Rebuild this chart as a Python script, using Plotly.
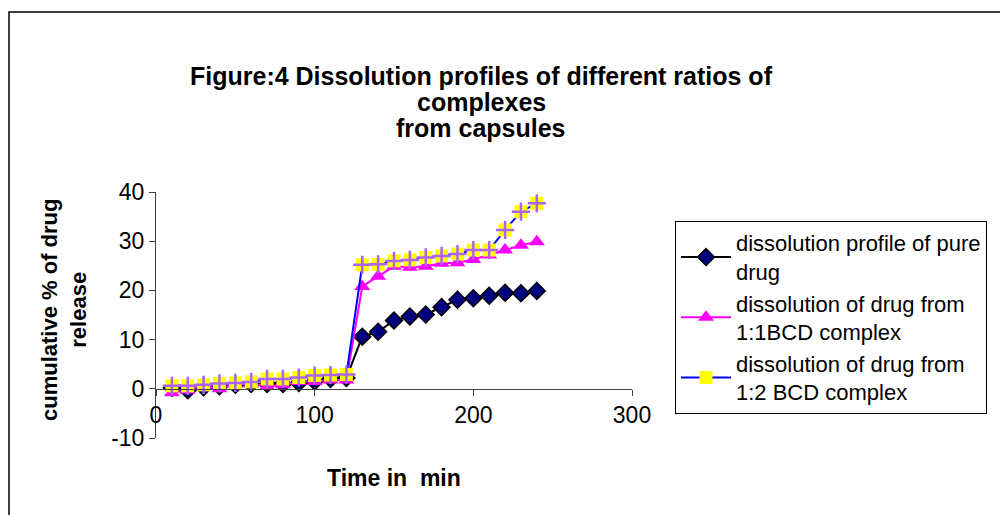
import plotly.graph_objects as go

time_min = [10, 20, 30, 40, 50, 60, 70, 80, 90, 100, 110, 120,
            130, 140, 150, 160, 170, 180, 190, 200, 210, 220, 230, 240]
pure_drug = [0.2, -0.3, 0.3, 0.5, 0.8, 1.0, 1.0, 1.0, 1.2, 1.5, 2.0, 2.2,
             10.6, 11.6, 13.9, 14.7, 15.1, 16.6, 18.1, 18.4, 18.9, 19.5, 19.4, 19.9]
bcd_1_1 = [-0.8, -0.3, 0.5, 0.0, 1.0, 1.0, 0.5, 0.8, 1.5, 1.5, 1.8, 1.8,
           20.8, 22.9, 24.9, 24.7, 24.9, 25.5, 25.6, 26.3, 27.2, 28.2, 29.2, 29.9]
bcd_1_2 = [0.6, 0.6, 0.8, 1.1, 1.2, 1.4, 2.0, 2.0, 2.3, 2.7, 2.8, 2.9,
           25.2, 25.3, 26.0, 26.2, 26.7, 27.0, 27.4, 28.2, 28.2, 32.3, 36.0, 37.7]

series_names = ["dissolution profile of pure<br>drug",
                "dissolution of drug from<br>1:1BCD complex",
                "dissolution of drug from<br>1:2 BCD complex"]
title_lines = ["Figure:4 Dissolution profiles of different ratios of",
               "complexes", "from capsules"]
x_title = "Time in  min"
y_title = "cumulative % of drug<br>release"
x_tick_vals = [0, 100, 200, 300]
x_tick_text = ["0", "100", "200", "300"]
y_tick_vals = [-10, 0, 10, 20, 30, 40]
y_tick_text = ["-10", "0", "10", "20", "30", "40"]

FONT = "Liberation Sans, Arial, sans-serif"
OFF = 8  # page body margin
W, H = 1008 - OFF, 515 - OFF
L, R, T, B = 156, 632, 192, 438  # plot area in reference pixels


def px_x(p):
    return (p - L) / (R - L)


def px_y(p):
    return (B - p) / (B - T)


fig = go.Figure()
fig.add_trace(go.Scatter(
    x=time_min, y=pure_drug, name=series_names[0], mode="lines+markers",
    line=dict(color="black", width=2),
    marker=dict(symbol="diamond", size=13, color="#000080",
                line=dict(color="black", width=1.5)),
    legendgroup="a"))
fig.add_trace(go.Scatter(
    x=time_min, y=bcd_1_1, name=series_names[1], mode="lines+markers",
    line=dict(color="#FF00FF", width=2),
    marker=dict(symbol="triangle-up", size=14, color="#FF00FF",
                line=dict(width=0)),
    legendgroup="b"))
fig.add_trace(go.Scatter(
    x=time_min, y=bcd_1_2, name=series_names[2], mode="lines+markers",
    line=dict(color="#0000FF", width=2),
    marker=dict(symbol="square", size=13, color="#FFFF00",
                line=dict(width=0)),
    legendgroup="c"))
fig.add_trace(go.Scatter(
    x=time_min, y=bcd_1_2, mode="markers", showlegend=False,
    marker=dict(symbol="cross-thin-open", size=13,
                line=dict(color="#0000FF", width=2.5)),
    legendgroup="c", hoverinfo="skip"))

axis_col = "#404040"
fig.update_layout(
    width=W, height=H, autosize=False,
    margin=dict(l=L - OFF, r=W - (R - OFF), t=T - OFF, b=H - (B - OFF), pad=0),
    paper_bgcolor="white", plot_bgcolor="white",
    font=dict(family=FONT, size=22, color="black"),
    showlegend=True,
    legend=dict(x=px_x(675), y=px_y(221), xanchor="left", yanchor="top",
                bordercolor="black", borderwidth=1, bgcolor="white",
                font=dict(size=22), itemwidth=50, tracegroupgap=4,
                traceorder="normal"),
    xaxis=dict(range=[0, 300], tickvals=x_tick_vals, ticktext=x_tick_text,
               showgrid=False, zeroline=False, showline=True,
               linecolor=axis_col, linewidth=1,
               ticks="outside", ticklen=6, tickcolor=axis_col,
               anchor="free", position=0.2,
               tickfont=dict(size=23, family=FONT)),
    yaxis=dict(range=[-10, 40], tickvals=y_tick_vals, ticktext=y_tick_text,
               showgrid=False, zeroline=False, showline=True,
               linecolor=axis_col, linewidth=1,
               ticks="outside", ticklen=6, tickcolor=axis_col,
               tickfont=dict(size=23, family=FONT)),
)

annots = []
for txt, yp in zip(title_lines, [76, 102, 128]):
    annots.append(dict(text="<b>" + txt + "</b>", x=px_x(481), y=px_y(yp),
                       xref="paper", yref="paper", showarrow=False,
                       xanchor="center", yanchor="middle",
                       font=dict(size=25, family=FONT, color="black")))
annots.append(dict(text="<b>" + x_title + "</b>", x=px_x(394), y=px_y(478),
                   xref="paper", yref="paper", showarrow=False,
                   xanchor="center", yanchor="middle",
                   font=dict(size=23, family=FONT, color="black")))
annots.append(dict(text="<b>" + y_title + "</b>", x=px_x(64), y=px_y(310),
                   xref="paper", yref="paper", showarrow=False, textangle=-90,
                   xanchor="center", yanchor="middle",
                   font=dict(size=22, family=FONT, color="black")))
fig.update_layout(annotations=annots)

fig.add_shape(type="rect", xref="paper", yref="paper",
              x0=px_x(9), x1=px_x(1030), y0=px_y(540), y1=px_y(12),
              line=dict(color="black", width=1.5), fillcolor="rgba(0,0,0,0)",
              layer="below")

fig.write_html("out.html")
